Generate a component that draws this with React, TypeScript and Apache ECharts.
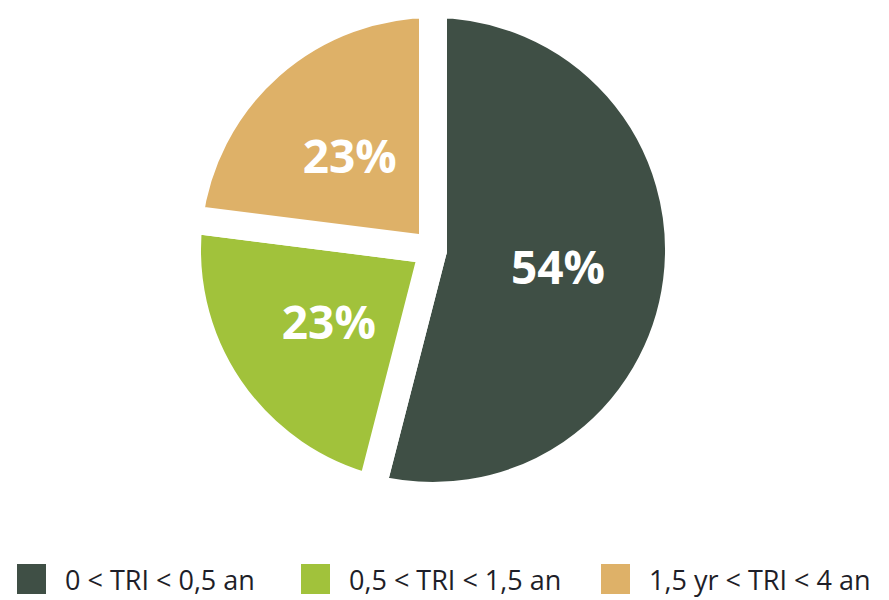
import React, { useEffect, useRef } from "react";
import * as echarts from "echarts";

const categories = ["0 < TRI < 0,5 an", "0,5 < TRI < 1,5 an", "1,5 yr < TRI < 4 an"];
const values = [54, 23, 23];
const colors = ["#3F4F45", "#A1C23B", "#DEB168"];
const legendLeft = [15, 299, 599];

export default function App() {
  const ref = useRef<HTMLDivElement>(null);
  useEffect(() => {
    if (!ref.current) return;
    const chart = echarts.init(ref.current, undefined, { renderer: "svg" });
    const legends = categories.map((name, i) => ({
      data: [{ name, icon: "rect" }],
      left: legendLeft[i],
      top: 562,
      padding: 0,
      itemWidth: 31,
      itemHeight: 32,
      selectedMode: false,
      textStyle: {
        fontFamily: "Open Sans",
        fontSize: 27,
        color: "#1e1e28",
        padding: [0, 0, 0, 13],
      },
    }));
    chart.setOption({
      animation: false,
      backgroundColor: "#ffffff",
      color: colors,
      legend: legends,
      series: [
        {
          type: "pie",
          center: [433, 250],
          radius: 246,
          startAngle: 90,
          clockwise: true,
          data: categories.map((name, i) => ({ name, value: values[i] })),
          itemStyle: {
            borderColor: "#ffffff",
            borderWidth: 28,
            borderJoin: "round",
          },
          label: {
            show: true,
            position: "inside",
            formatter: "{c}%",
            color: "#ffffff",
            fontFamily: "Open Sans",
            fontWeight: "bold",
            fontSize: 46,
          },
          labelLine: { show: false },
          emphasis: { disabled: true },
        },
      ],
    });
    return () => chart.dispose();
  }, []);
  return (
    <div
      ref={ref}
      style={{ position: "absolute", left: 0, top: 0, width: 889, height: 600 }}
    />
  );
}
